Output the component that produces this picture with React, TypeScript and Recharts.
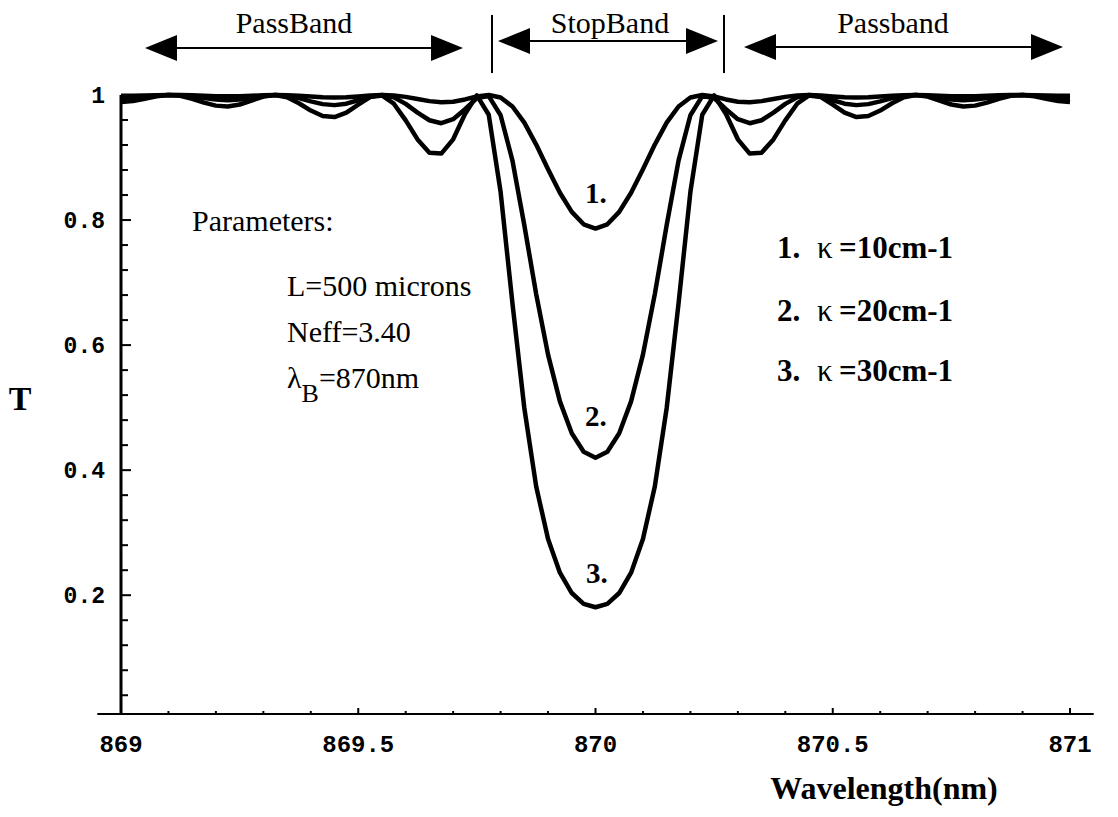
import React from 'react'
import { LineChart, Line, XAxis, YAxis, ReferenceLine } from 'recharts'

// Bragg grating transmission: offset from 870 nm and T per kappa
const centerNm = 870
const detuning = [
  0, 0.025, 0.05, 0.075, 0.1, 0.125, 0.15, 0.175, 0.2, 0.225,
  0.25, 0.275, 0.3, 0.325, 0.35, 0.375, 0.4, 0.425, 0.45, 0.475,
  0.5, 0.525, 0.55, 0.575, 0.6, 0.625, 0.65, 0.675, 0.7, 0.725,
  0.75, 0.775, 0.8, 0.825, 0.85, 0.875, 0.9, 0.925, 0.95, 0.975, 1.0,
]
// kappa = 10 cm-1
const t1 = [
  0.7864, 0.7932, 0.8130, 0.8436, 0.8813, 0.9207, 0.9558, 0.9816, 0.9959, 1.0,
  0.9976, 0.9929, 0.9893, 0.9884, 0.9902, 0.9935, 0.9970, 0.9994, 1.0, 0.9992,
  0.9976, 0.9964, 0.9959, 0.9964, 0.9976, 0.9989, 0.9998, 1.0, 0.9995, 0.9988,
  0.9981, 0.9979, 0.9982, 0.9988, 0.9995, 0.9999, 1.0, 0.9997, 0.9992, 0.9989, 0.9987,
]
// kappa = 20 cm-1
const t2 = [
  0.4200, 0.4295, 0.4589, 0.5100, 0.5847, 0.6816, 0.7917, 0.8950, 0.9677, 0.9982,
  0.9950, 0.9773, 0.9613, 0.9549, 0.9596, 0.9718, 0.9858, 0.9963, 1.0, 0.9974,
  0.9916, 0.9861, 0.9838, 0.9854, 0.9899, 0.9951, 0.9989, 1.0, 0.9984, 0.9955,
  0.9928, 0.9917, 0.9926, 0.9950, 0.9977, 0.9996, 0.9999, 0.9989, 0.9971, 0.9956, 0.9950,
]
// kappa = 30 cm-1
const t3 = [
  0.1807, 0.1862, 0.2035, 0.2361, 0.2898, 0.3739, 0.4992, 0.6666, 0.8450, 0.9684,
  0.9994, 0.9695, 0.9291, 0.9063, 0.9077, 0.9290, 0.9594, 0.9861, 0.9992, 0.9968,
  0.9847, 0.9717, 0.9647, 0.9663, 0.9751, 0.9868, 0.9963, 1.0, 0.9974, 0.9911,
  0.9848, 0.9817, 0.9830, 0.9878, 0.9940, 0.9987, 1.0, 0.9980, 0.9941, 0.9905, 0.9888,
]

const xTicks = [
  869, 869.1, 869.2, 869.3, 869.4, 869.5, 869.6, 869.7, 869.8, 869.9, 870,
  870.1, 870.2, 870.3, 870.4, 870.5, 870.6, 870.7, 870.8, 870.9, 871,
]
const xMajor = [869, 869.5, 870, 870.5, 871]
const yTicks = [
  0.04, 0.08, 0.12, 0.16, 0.2, 0.24, 0.28, 0.32, 0.36, 0.4, 0.44, 0.48, 0.52,
  0.56, 0.6, 0.64, 0.68, 0.72, 0.76, 0.8, 0.84, 0.88, 0.92, 0.96, 1,
]
const yMajor = [0.2, 0.4, 0.6, 0.8, 1]
const yBottom = 0.01

// mirror the half curves around the Bragg wavelength
const rows: { x: number; k1: number; k2: number; k3: number }[] = []
for (let i = detuning.length - 1; i > 0; i--) {
  rows.push({ x: centerNm - detuning[i], k1: t1[i], k2: t2[i], k3: t3[i] })
}
for (let i = 0; i < detuning.length; i++) {
  rows.push({ x: centerNm + detuning[i], k1: t1[i], k2: t2[i], k3: t3[i] })
}

const mono = '"Liberation Mono", "DejaVu Sans Mono", monospace'
const serif = '"Liberation Serif", "DejaVu Serif", serif'

function XTick(props: any) {
  const { x, y, payload } = props
  const v = payload.value
  const major = xMajor.some(m => Math.abs(m - v) < 1e-6)
  return (
    <g>
      <line x1={x} x2={x} y1={y} y2={y - (major ? 6 : 3)} stroke="#000" strokeWidth={2} />
      {major && (
        <text x={x} y={y + 38} textAnchor="middle" fontFamily={mono} fontWeight="bold" fontSize={24} fill="#000">
          {String(v)}
        </text>
      )}
    </g>
  )
}

function YTick(props: any) {
  const { x, y, payload } = props
  const v = payload.value
  const major = yMajor.some(m => Math.abs(m - v) < 1e-6)
  return (
    <g>
      <line x1={x} x2={x + (major ? 10 : 7)} y1={y} y2={y} stroke="#000" strokeWidth={2} />
      {major && (
        <text x={x - 16} y={y + 8} textAnchor="end" fontFamily={mono} fontWeight="bold" fontSize={23} fill="#000">
          {v === 1 ? '1' : v.toFixed(1)}
        </text>
      )}
    </g>
  )
}

function Arrow({ x1, x2, y }: { x1: number; x2: number; y: number }) {
  return (
    <g fill="#000" stroke="#000">
      <line x1={x1 + 20} x2={x2 - 20} y1={y} y2={y} strokeWidth={2} />
      <polygon points={`${x1},${y} ${x1 + 32},${y - 13} ${x1 + 32},${y + 13}`} stroke="none" />
      <polygon points={`${x2},${y} ${x2 - 32},${y - 13} ${x2 - 32},${y + 13}`} stroke="none" />
    </g>
  )
}

export default function App() {
  return (
    <div style={{ position: 'absolute', left: 0, top: 0, width: 1118, height: 817, background: '#fff' }}>
      <LineChart width={1118} height={817} data={rows} margin={{ top: 95, right: 48, bottom: 43, left: 61 }}>
        <XAxis
          type="number"
          dataKey="x"
          domain={[869, 871]}
          ticks={xTicks}
          interval={0}
          tickSize={0}
          tickMargin={0}
          tickLine={false}
          tick={<XTick />}
          height={60}
          axisLine={{ stroke: '#000', strokeWidth: 2 }}
        />
        <YAxis
          type="number"
          domain={[yBottom, 1]}
          ticks={yTicks}
          interval={0}
          tickSize={0}
          tickMargin={0}
          tickLine={false}
          tick={<YTick />}
          width={60}
          axisLine={{ stroke: '#000', strokeWidth: 3 }}
        />
        {/* x axis runs a little past both ends of the plot */}
        <ReferenceLine
          segment={[{ x: 868.95, y: yBottom }, { x: 871.05, y: yBottom }]}
          ifOverflow="visible"
          stroke="#000"
          strokeWidth={2}
        />
        <Line type="linear" dataKey="k1" stroke="#000" strokeWidth={4.5} dot={false} isAnimationActive={false} strokeLinejoin="round" />
        <Line type="linear" dataKey="k2" stroke="#000" strokeWidth={4.5} dot={false} isAnimationActive={false} strokeLinejoin="round" />
        <Line type="linear" dataKey="k3" stroke="#000" strokeWidth={4.5} dot={false} isAnimationActive={false} strokeLinejoin="round" />
      </LineChart>

      {/* annotations */}
      <svg width={1118} height={817} style={{ position: 'absolute', left: 0, top: 0, pointerEvents: 'none' }}>
        <g fontFamily={serif} fontSize={30} fill="#000">
          <text x={294} y={33} textAnchor="middle">PassBand</text>
          <text x={610} y={33} textAnchor="middle">StopBand</text>
          <text x={893} y={33} textAnchor="middle">Passband</text>
        </g>
        <Arrow x1={145} x2={463} y={48} />
        <Arrow x1={498} x2={718} y={41} />
        <Arrow x1={744} x2={1063} y={47} />
        <line x1={492} x2={492} y1={15} y2={73} stroke="#000" strokeWidth={2} />
        <line x1={724} x2={724} y1={15} y2={73} stroke="#000" strokeWidth={2} />

        <g fontFamily={serif} fontSize={30} fill="#000">
          <text x={192} y={231}>Parameters:</text>
          <text x={287} y={296}>L=500 microns</text>
          <text x={287} y={342}>Neff=3.40</text>
          <text x={287} y={388}>
            λ<tspan dy={14} fontSize={26}>B</tspan><tspan dy={-14}>=870nm</tspan>
          </text>
        </g>

        <g fontFamily={serif} fontSize={29} fontWeight="bold" fill="#000">
          <text x={585} y={203}>1.</text>
          <text x={585} y={426}>2.</text>
          <text x={586} y={583}>3.</text>
        </g>

        <g fontFamily={serif} fontSize={31} fontWeight="bold" fill="#000">
          <text x={777} y={258}>1.</text>
          <text x={817} y={258} fontWeight="normal">κ</text>
          <text x={839} y={258}>=10cm-1</text>
          <text x={777} y={321}>2.</text>
          <text x={817} y={321} fontWeight="normal">κ</text>
          <text x={839} y={321}>=20cm-1</text>
          <text x={777} y={381}>3.</text>
          <text x={817} y={381} fontWeight="normal">κ</text>
          <text x={839} y={381}>=30cm-1</text>

          <text x={20} y={410} textAnchor="middle" fontSize={34}>T</text>
          <text x={884} y={799} textAnchor="middle" fontSize={32}>Wavelength(nm)</text>
        </g>
      </svg>
    </div>
  )
}
